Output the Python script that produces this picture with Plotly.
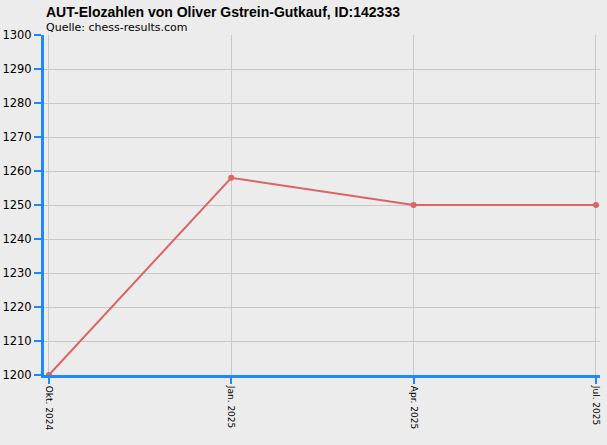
import plotly.graph_objects as go

# Elo history
MONTHS = ["Okt. 2024", "Jan. 2025", "Apr. 2025", "Jul. 2025"]
ELO = [1200, 1258, 1250, 1250]
Y_TICKS = list(range(1200, 1301, 10))

TITLE = "AUT-Elozahlen von Oliver Gstrein-Gutkauf, ID:142333"
SOURCE = "Quelle: chess-results.com"

BG = "#ECECEC"
AXIS_BLUE = "#1E88FF"
LINE_RED = "#DB6464"
GRID = "#C8C8C8"

fig = go.Figure()
fig.add_trace(go.Scatter(
    x=MONTHS, y=ELO,
    mode="lines+markers",
    line=dict(color=LINE_RED, width=2),
    marker=dict(color=LINE_RED, size=6),
    showlegend=False,
    cliponaxis=False,
))

fig.update_xaxes(
    type="category",
    range=[-0.027, 3.022],
    tickangle=90,
    tickfont=dict(family="DejaVu Sans", size=9, color="black"),
    showline=True, linecolor=AXIS_BLUE, linewidth=3,
    ticks="outside", tickcolor=AXIS_BLUE, ticklen=6, tickwidth=2,
    showgrid=True, gridcolor=GRID, gridwidth=1,
    zeroline=False, automargin=False,
)
fig.update_yaxes(
    range=[1200, 1300],
    tickvals=Y_TICKS,
    tickfont=dict(family="DejaVu Sans", size=11.5, color="black"),
    showline=True, linecolor=AXIS_BLUE, linewidth=3,
    ticks="outside", tickcolor=AXIS_BLUE, ticklen=7, tickwidth=2,
    showgrid=True, gridcolor=GRID, gridwidth=1,
    zeroline=False, automargin=False,
)

fig.update_layout(
    width=607, height=445,
    margin=dict(l=44, r=7, t=35, b=70, autoexpand=False),
    paper_bgcolor=BG, plot_bgcolor=BG,
    annotations=[
        dict(text="<b>" + TITLE + "</b>", xref="paper", yref="paper",
             x=0.0, y=1.0, yshift=23, xanchor="left", yanchor="middle",
             showarrow=False, font=dict(family="Liberation Sans", size=14, color="black")),
        dict(text=SOURCE, xref="paper", yref="paper",
             x=0.0, y=1.0, yshift=8, xanchor="left", yanchor="middle",
             showarrow=False, font=dict(family="DejaVu Sans", size=11, color="black")),
    ],
)

# the page's default body margin would push the chart 8px off
fig.write_html("out.html", config={"displayModeBar": False},
               post_script="document.body.style.margin='0';")
